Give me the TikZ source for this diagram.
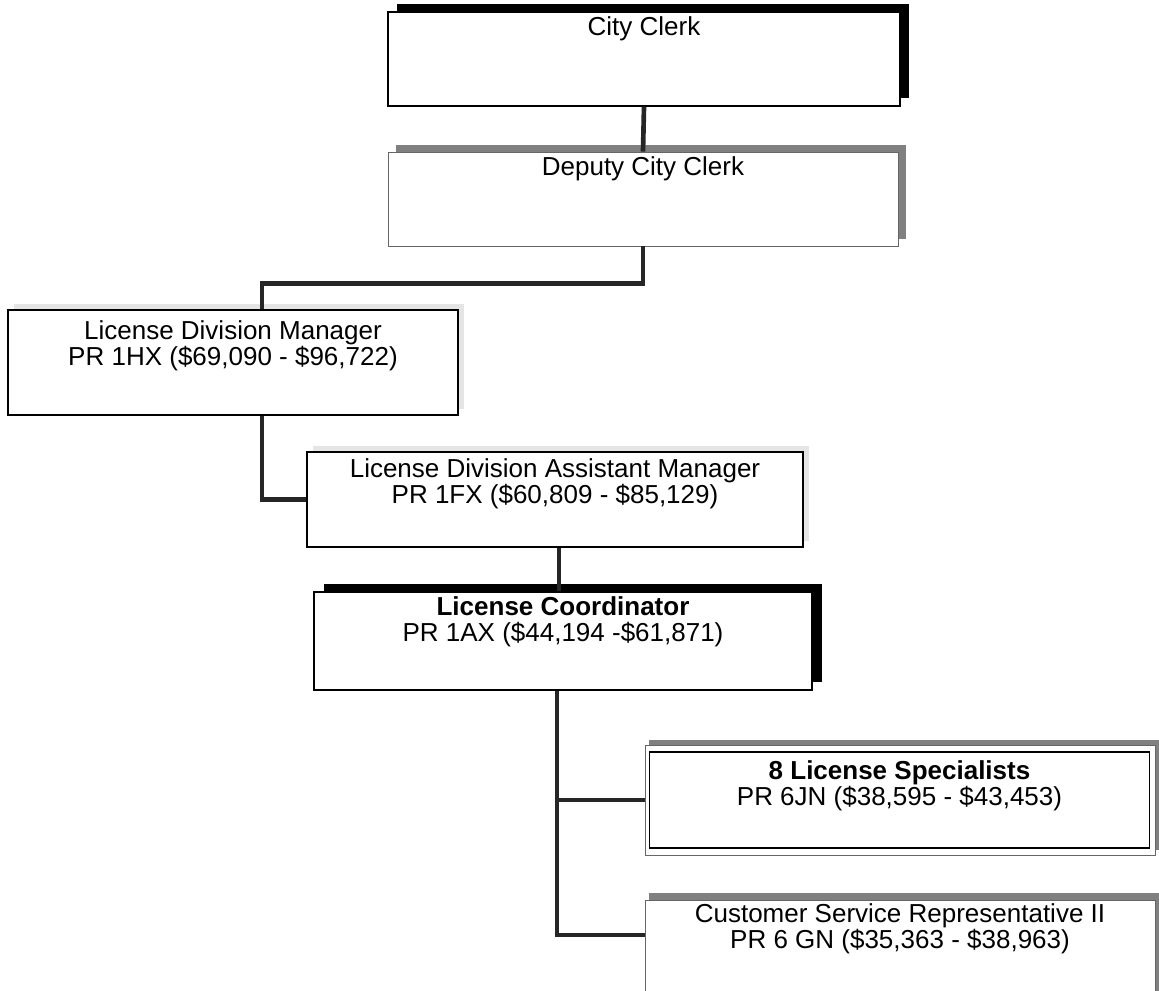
\documentclass[tikz,border=0pt]{standalone}
\usepackage{fontspec}
\setmainfont{Liberation Sans}
\usetikzlibrary{positioning}

\tikzset{
  post/.style={draw=black, line width=1pt, fill=white, inner sep=0pt},
  softpost/.style={draw=black!60, line width=0.7pt, fill=white, inner sep=0pt},
  title/.style={align=center, inner sep=0pt, font=\fontsize{19.5}{19.5}\selectfont},
  link/.style={draw=black!85, line width=3.5pt},
  hardshadow/.style={fill=black},
  softshadow/.style={fill=black!50},
  faintshadow/.style={fill=black!10},
}

\begin{document}
\begin{tikzpicture}[x=0.75pt,y=-0.75pt]
  \useasboundingbox (0,0) rectangle (1159,990);
  % shadows behind the posts
  \fill[hardshadow] (397,4) rectangle (909,98);
  \fill[softshadow] (396,145) rectangle (906,239);
  \fill[faintshadow] (14,304) rectangle (464,409);
  \fill[faintshadow] (313,446) rectangle (809,541);
  \fill[hardshadow] (324,584) rectangle (822,682);
  \fill[softshadow] (649,740) rectangle (1159,850);
  \fill[softshadow] (649,893) rectangle (1159,1003);

  % posts
  \node[post, minimum width=384pt, minimum height=70.5pt] (cc) at (644,59) {};
  \node[title, below=4pt of cc.north] (ccT) {City Clerk};

  \node[softpost, minimum width=382.5pt, minimum height=70.5pt] (dcc) at (643,199) {};
  \node[title, below=4pt of dcc.north] (dccT) {Deputy City Clerk};

  \node[post, minimum width=337.5pt, minimum height=78.75pt] (ldm) at (233,362.5) {};
  \node[title, below=8pt of ldm.north] (ldmT) {License Division Manager\\PR 1HX (\$69,090 - \$96,722)};

  \node[post, minimum width=372pt, minimum height=71.25pt] (ldam) at (555,499.5) {};
  \node[title, below=5pt of ldam.north] (ldamT) {License Division Assistant Manager\\PR 1FX (\$60,809 - \$85,129)};

  \node[post, minimum width=373.5pt, minimum height=73.5pt] (lc) at (563,641) {};
  \node[title, below=4pt of lc.north] (lcT) {\textbf{License Coordinator}\\PR 1AX (\$44,194 -\$61,871)};

  \node[softpost, minimum width=382.5pt, minimum height=82.5pt] (ls) at (900,800) {};
  \node[post, minimum width=375pt, minimum height=72pt] (lsIn) at (899.5,800) {};
  \node[title, below=7pt of lsIn.north] (lsT) {\textbf{8 License Specialists}\\PR 6JN (\$38,595 - \$43,453)};

  \node[softpost, minimum width=382.5pt, minimum height=82.5pt] (csr) at (900,955) {};
  \node[title, below=3pt of csr.north] (csrT) {Customer Service Representative II\\PR 6 GN (\$35,363 - \$38,963)};

  % links
  \draw[link] (cc.south) -- (dcc.north);
  \draw[link] (dcc.south) -- ++(0,37) -| ([xshift=21.75pt]ldm.north);
  \draw[link] ([xshift=21.75pt]ldm.south) |- (ldam.west);
  \draw[link] ([xshift=3pt]ldam.south) -- ([xshift=3pt]ldam.south |- lc.north);
  \draw[link] ([xshift=-4.5pt]lc.south) |- (ls.west);
  \draw[link] ([xshift=-4.5pt]lc.south) |- ([yshift=15pt]csr.west);
\end{tikzpicture}
\end{document}
